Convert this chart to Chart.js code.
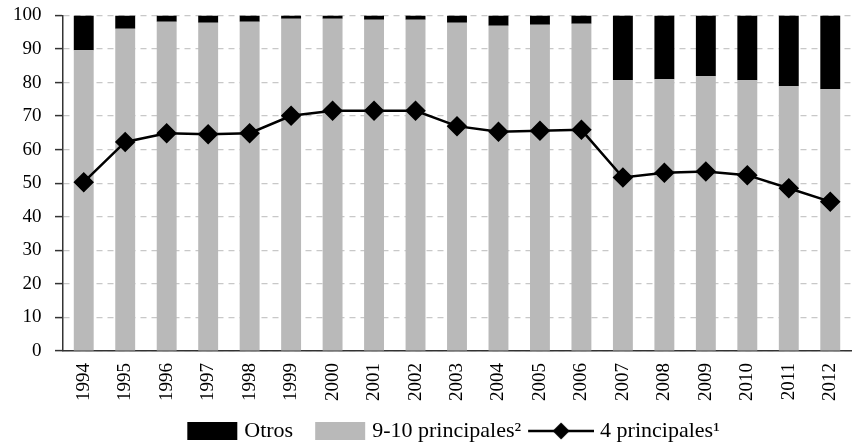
<!DOCTYPE html>
<html>
<head>
<meta charset="utf-8">
<script src="https://cdn.jsdelivr.net/npm/chart.js@4.4.1/dist/chart.umd.min.js"></script>
<style>
  html, body { margin: 0; padding: 0; background: #fff; }
  #wrap { width: 862px; height: 446px; }
</style>
</head>
<body>
<div id="wrap"><canvas id="myChart"></canvas></div>
<script>
// data (percent)
const years = ['1994', '1995', '1996', '1997', '1998', '1999', '2000', '2001', '2002', '2003',
  '2004', '2005', '2006', '2007', '2008', '2009', '2010', '2011', '2012'];
const principales910 = [89.6, 96.0, 98.1, 97.8, 98.1, 99.0, 99.0, 98.7, 98.7, 97.8,
  96.9, 97.2, 97.5, 80.7, 81.0, 81.9, 80.7, 78.9, 78.0];
const otros = [10.4, 4.0, 1.9, 2.2, 1.9, 1.0, 1.0, 1.3, 1.3, 2.2,
  3.1, 2.8, 2.5, 19.3, 19.0, 18.1, 19.3, 21.1, 22.0];
const principales4 = [50.3, 62.3, 64.9, 64.6, 64.9, 70.1, 71.6, 71.6, 71.6, 67.0,
  65.3, 65.6, 65.9, 51.7, 53.1, 53.5, 52.4, 48.5, 44.5];
const yTicks = [0, 10, 20, 30, 40, 50, 60, 70, 80, 90, 100];

const GRAY = '#b9b9b9';
const FONT = "'Liberation Serif', 'Times New Roman', serif";

// legend swatches: canvases 74 wide, drawn centred in a 64px slot
const SW = 74, SH = 20;
function boxSwatch(color) {
  const c = document.createElement('canvas');
  c.width = SW; c.height = SH;
  const g = c.getContext('2d');
  g.fillStyle = color;
  g.fillRect(23, 1, 50, 18);
  return c;
}
function lineSwatch() {
  const c = document.createElement('canvas');
  c.width = SW; c.height = SH;
  const g = c.getContext('2d');
  g.strokeStyle = '#000';
  g.lineWidth = 2.5;
  g.beginPath(); g.moveTo(8, 10); g.lineTo(74, 10); g.stroke();
  g.fillStyle = '#000';
  g.beginPath();
  g.moveTo(41, 1.5); g.lineTo(49.5, 10); g.lineTo(41, 18.5); g.lineTo(32.5, 10);
  g.closePath(); g.fill();
  return c;
}
const swatches = [boxSwatch('#000'), boxSwatch(GRAY), lineSwatch()];

// nudge the legend a bit to the right, like the original
const legendShift = {
  id: 'legendShift',
  afterLayout(chart) {
    chart.legend.left += 9;
    chart.legend.right += 9;
  }
};

var ctx = document.getElementById('myChart');
var myChart = new Chart(ctx, {
  data: {
    labels: years,
    datasets: [
      {
        type: 'bar',
        label: '9-10 principales²',
        data: principales910,
        backgroundColor: GRAY,
        stack: 's',
        order: 2,
        barPercentage: 0.48,
        categoryPercentage: 1
      },
      {
        type: 'bar',
        label: 'Otros',
        data: otros,
        backgroundColor: '#000',
        stack: 's',
        order: 2,
        barPercentage: 0.48,
        categoryPercentage: 1
      },
      {
        type: 'line',
        label: '4 principales¹',
        data: principales4,
        borderColor: '#000',
        backgroundColor: '#000',
        borderWidth: 2.5,
        pointStyle: 'rectRot',
        pointRadius: 8.5,
        pointHoverRadius: 8.5,
        tension: 0,
        order: 1
      }
    ]
  },
  plugins: [legendShift],
  options: {
    responsive: true,
    maintainAspectRatio: false,
    animation: false,
    layout: { padding: { top: 0, right: 0, left: 9, bottom: -6 } },
    plugins: {
      tooltip: { enabled: false },
      legend: {
        position: 'bottom',
        labels: {
          usePointStyle: true,
          pointStyleWidth: 64,
          padding: 4,
          color: '#000',
          font: { family: FONT, size: 22 },
          generateLabels: function(chart) {
            const order = [1, 0, 2];
            return order.map(function(i, k) {
              return {
                text: chart.data.datasets[i].label,
                pointStyle: swatches[k],
                fillStyle: '#000',
                strokeStyle: '#000',
                lineWidth: 0,
                hidden: false,
                datasetIndex: i
              };
            });
          }
        }
      }
    },
    scales: {
      x: {
        stacked: true,
        grid: { display: false },
        border: { display: true, color: '#333', width: 1.5 },
        afterFit: function(axis) { axis.height += 11; },
        ticks: {
          color: '#000',
          font: { family: FONT, size: 19 },
          minRotation: 90,
          maxRotation: 90,
          padding: 4
        }
      },
      y: {
        stacked: true,
        min: 0,
        max: 100,
        afterBuildTicks: function(axis) {
          axis.ticks = yTicks.map(function(v) { return { value: v }; });
        },
        grid: {
          color: '#c8c8c8',
          lineWidth: 1.2,
          tickColor: '#333',
          tickLength: 8,
          tickWidth: 1.5
        },
        border: { color: '#333', width: 1.5, dash: [6, 5] },
        ticks: {
          color: '#000',
          font: { family: FONT, size: 19 },
          padding: 4,
          // trailing spaces keep the gap to the tick marks without extra top padding
          callback: function(value) { return value + '  '; }
        }
      }
    }
  }
});
</script>
</body>
</html>
